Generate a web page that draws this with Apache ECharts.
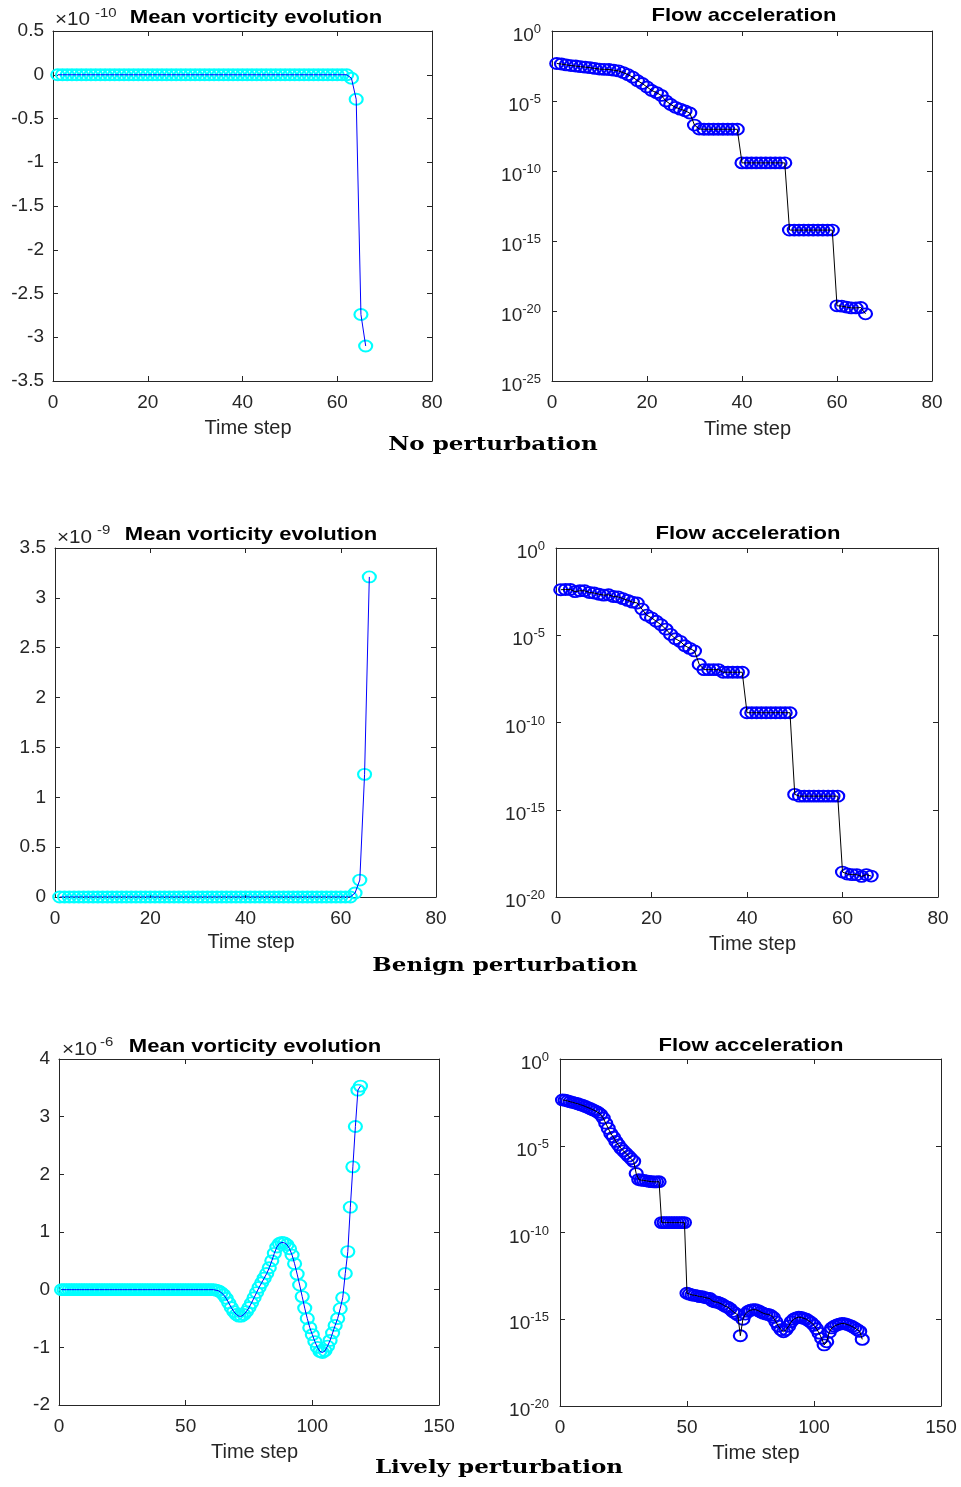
<!DOCTYPE html>
<html>
<head>
<meta charset="utf-8">
<script src="https://cdn.jsdelivr.net/npm/echarts@6/dist/echarts.min.js"></script>
<style>html,body{margin:0;padding:0;background:#fff}#chart{width:961px;height:1487px}</style>
</head>
<body>
<div id="chart"></div>
<script>
// ---------------- DATA ----------------
// Mean vorticity, no perturbation, in units of 1e-10 (time steps 1..66)
const vortNoPert = [
  0,0,0,0,0,0,0,0,0,0,
  0,0,0,0,0,0,0,0,0,0,
  0,0,0,0,0,0,0,0,0,0,
  0,0,0,0,0,0,0,0,0,0,
  0,0,0,0,0,0,0,0,0,0,
  0,0,0,0,0,0,0,0,0,0,
  0,0,-0.04,-0.28,-2.74,-3.1
];
// Flow acceleration, no perturbation, log10 values (time steps 1..66)
const accelNoPertLog10 = [
  -2.32,-2.36,-2.42,-2.47,-2.5,-2.55,-2.58,-2.62,-2.67,-2.72,
  -2.74,-2.75,-2.8,-2.85,-2.97,-3.12,-3.3,-3.55,-3.75,-4.0,
  -4.25,-4.4,-4.6,-5.0,-5.25,-5.45,-5.58,-5.7,-5.86,-6.72,
  -7.0,-7.02,-7.02,-7.02,-7.02,-7.02,-7.02,-7.02,-7.02,-9.42,
  -9.42,-9.42,-9.42,-9.42,-9.42,-9.42,-9.42,-9.42,-9.42,-14.22,
  -14.22,-14.22,-14.22,-14.22,-14.22,-14.22,-14.22,-14.22,-14.22,-19.63,
  -19.65,-19.72,-19.78,-19.78,-19.75,-20.2
];
// Mean vorticity, benign perturbation, in units of 1e-9 (time steps 1..66)
const vortBenign = [
  0,0,0,0,0,0,0,0,0,0,
  0,0,0,0,0,0,0,0,0,0,
  0,0,0,0,0,0,0,0,0,0,
  0,0,0,0,0,0,0,0,0,0,
  0,0,0,0,0,0,0,0,0,0,
  0,0,0,0,0,0,0,0,0,0,
  0,0,0.04,0.17,1.23,3.21
];
// Flow acceleration, benign perturbation, log10 values (time steps 1..66)
const accelBenignLog10 = [
  -2.39,-2.38,-2.38,-2.5,-2.45,-2.45,-2.55,-2.58,-2.65,-2.7,
  -2.68,-2.78,-2.8,-2.9,-3.0,-3.1,-3.15,-3.5,-3.85,-4.0,
  -4.2,-4.4,-4.65,-4.95,-5.2,-5.35,-5.6,-5.75,-5.9,-6.67,
  -6.97,-6.97,-6.97,-6.97,-7.12,-7.12,-7.12,-7.12,-7.12,-9.44,
  -9.44,-9.44,-9.44,-9.44,-9.44,-9.44,-9.44,-9.44,-9.44,-14.12,
  -14.22,-14.22,-14.22,-14.22,-14.22,-14.22,-14.22,-14.22,-14.22,-18.57,
  -18.68,-18.72,-18.72,-18.82,-18.72,-18.8
];
// Mean vorticity, lively perturbation, in units of 1e-6 (time steps 1..119)
const vortLively = [
  0,0,0,0,0,0,0,0,0,0,
  0,0,0,0,0,0,0,0,0,0,
  0,0,0,0,0,0,0,0,0,0,
  0,0,0,0,0,0,0,0,0,0,
  0,0,0,0,0,0,0,0,0,0,
  0,0,0,0,0,0,0,0,0,0,
  0,-0.01,-0.02,-0.05,-0.09,-0.15,-0.23,-0.31,-0.38,-0.43,
  -0.46,-0.46,-0.43,-0.38,-0.31,-0.23,-0.14,-0.05,0.04,0.12,
  0.2,0.28,0.38,0.5,0.63,0.74,0.8,0.82,0.81,0.78,
  0.71,0.6,0.45,0.27,0.08,-0.12,-0.32,-0.5,-0.66,-0.78,
  -0.9,-1.0,-1.07,-1.09,-1.06,-0.98,-0.88,-0.75,-0.62,-0.5,
  -0.33,-0.14,0.28,0.66,1.43,2.13,2.83,3.46,3.53
];
// Flow acceleration, lively perturbation, log10 values (time steps 1..119)
const accelLivelyLog10 = [
  -2.36,-2.38,-2.42,-2.46,-2.5,-2.54,-2.58,-2.63,-2.68,-2.74,
  -2.8,-2.86,-2.93,-3.0,-3.08,-3.2,-3.4,-3.7,-4.0,-4.3,
  -4.5,-4.75,-4.95,-5.15,-5.3,-5.45,-5.6,-5.75,-5.9,-6.6,
  -6.95,-6.98,-7.0,-7.02,-7.05,-7.07,-7.08,-7.08,-7.07,-9.43,
  -9.43,-9.43,-9.43,-9.43,-9.43,-9.43,-9.43,-9.43,-9.43,-13.5,
  -13.55,-13.6,-13.62,-13.65,-13.7,-13.7,-13.75,-13.78,-13.8,-13.95,
  -14.0,-14.02,-14.08,-14.15,-14.25,-14.3,-14.4,-14.55,-14.65,-14.75,
  -15.95,-15.0,-14.7,-14.55,-14.48,-14.45,-14.45,-14.5,-14.58,-14.65,
  -14.7,-14.72,-14.78,-14.9,-15.15,-15.4,-15.6,-15.72,-15.6,-15.4,
  -15.15,-15.0,-14.92,-14.88,-14.9,-14.95,-15.0,-15.1,-15.2,-15.35,
  -15.55,-15.8,-16.1,-16.48,-16.3,-15.75,-15.5,-15.4,-15.33,-15.28,
  -15.24,-15.25,-15.3,-15.35,-15.42,-15.5,-15.6,-15.7,-16.16
];

const titleVort = 'Mean vorticity evolution';
const titleAccel = 'Flow acceleration';
const xAxisName = 'Time step';
const captions = ['No perturbation', 'Benign perturbation', 'Lively perturbation'];
const vortExponents = ['-10', '-9', '-6'];

// ---------------- LAYOUT ----------------
const FONT = "'Liberation Sans', Arial, Helvetica, sans-serif";
const AXC = '#262626';

const panels = [
  { kind: 'vort',  values: vortNoPert,       grid: {left: 53,  top: 31,   width: 379, height: 350}, x: [0, 80, 20],  y: [-3.5, 0.5, 0.5], nameGap: 37 },
  { kind: 'accel', values: accelNoPertLog10, grid: {left: 552, top: 31,   width: 380, height: 350}, x: [0, 80, 20],  y: [-25, 0, 5],      nameGap: 38 },
  { kind: 'vort',  values: vortBenign,       grid: {left: 55,  top: 548,  width: 381, height: 349}, x: [0, 80, 20],  y: [0, 3.5, 0.5],    nameGap: 35 },
  { kind: 'accel', values: accelBenignLog10, grid: {left: 556, top: 548,  width: 382, height: 349}, x: [0, 80, 20],  y: [-20, 0, 5],      nameGap: 37 },
  { kind: 'vort',  values: vortLively,       grid: {left: 59,  top: 1059, width: 380, height: 346}, x: [0, 150, 50], y: [-2, 4, 1],       nameGap: 37 },
  { kind: 'accel', values: accelLivelyLog10, grid: {left: 560, top: 1059, width: 381, height: 347}, x: [0, 150, 50], y: [-20, 0, 5],      nameGap: 37 }
];

const grids = [], xAxes = [], yAxes = [], series = [];

const tick = {show: true, inside: true, length: 5, lineStyle: {color: AXC, width: 1}};
const line = {show: true, onZero: false, lineStyle: {color: AXC, width: 1}};

panels.forEach((p, i) => {
  grids.push(Object.assign({show: false, containLabel: false, outerBoundsMode: 'none'}, p.grid));
  const [xmin, xmax, xint] = p.x;
  const [ymin, ymax, yint] = p.y;
  xAxes.push({
    type: 'value', gridIndex: i, position: 'bottom', min: xmin, max: xmax, interval: xint,
    axisLine: line, axisTick: tick, splitLine: {show: false},
    axisLabel: {show: true, margin: 12, color: AXC, fontFamily: FONT, fontSize: 19, showMinLabel: true, showMaxLabel: true},
    name: xAxisName, nameLocation: 'middle', nameGap: p.nameGap,
    nameTextStyle: {color: AXC, fontFamily: FONT, fontSize: 20, padding: [0, 0, 0, 11]}
  });
  xAxes.push({
    type: 'value', gridIndex: i, position: 'top', min: xmin, max: xmax, interval: xint,
    axisLine: line, axisTick: tick, splitLine: {show: false}, axisLabel: {show: false}
  });
  const yLabel = p.kind === 'accel'
    ? {
        show: true, margin: 11, color: AXC, fontFamily: FONT, showMinLabel: true, showMaxLabel: true,
        formatter: v => '{b|10}{s|' + v + '}',
        rich: {
          b: {fontSize: 19, fontFamily: FONT, color: AXC, lineHeight: 18, padding: [11, 0, 1, 0]},
          s: {fontSize: 13, fontFamily: FONT, color: AXC, lineHeight: 13, padding: [7, 0, 10, 0]}
        }
      }
    : {show: true, margin: 9, color: AXC, fontFamily: FONT, fontSize: 19, showMinLabel: true, showMaxLabel: true};
  yAxes.push({
    type: 'value', gridIndex: i, position: 'left', min: ymin, max: ymax, interval: yint,
    axisLine: line, axisTick: tick, splitLine: {show: false}, axisLabel: yLabel
  });
  yAxes.push({
    type: 'value', gridIndex: i, position: 'right', min: ymin, max: ymax, interval: yint,
    axisLine: line, axisTick: tick, splitLine: {show: false}, axisLabel: {show: false}
  });

  const pts = p.values.map((v, k) => [k + 1, v]);
  const markerColor = p.kind === 'vort' ? '#00ffff' : '#0000ff';
  const lineColor = p.kind === 'vort' ? '#0000ff' : '#000000';
  series.push({
    type: 'scatter', xAxisIndex: 2 * i, yAxisIndex: 2 * i, data: pts,
    symbol: 'circle', symbolSize: [13, 11], z: 2, silent: true,
    itemStyle: {color: 'rgba(0,0,0,0)', borderColor: markerColor, borderWidth: 2, opacity: 1}
  });
  series.push({
    type: 'line', xAxisIndex: 2 * i, yAxisIndex: 2 * i, data: pts,
    symbol: 'none', showSymbol: false, z: 3, silent: true,
    lineStyle: {color: lineColor, width: 1}, itemStyle: {color: lineColor}
  });
});

// titles, exponent markers, captions
const graphics = [];
const titlePos = [[256, 18], [744, 15.5], [251, 535], [748, 533.5], [255, 1047], [751, 1045.5]];
titlePos.forEach((tp, i) => {
  graphics.push({
    type: 'text', x: tp[0], y: tp[1], scaleX: 1.16, silent: true,
    style: {text: i % 2 === 0 ? titleVort : titleAccel, fill: '#000', font: 'bold 19px ' + FONT,
            textAlign: 'center', textVerticalAlign: 'middle'}
  });
});
const expPos = [[55, 20.5, 95, 13], [57, 538, 97, 530.5], [62, 1050, 100, 1042.5]];
expPos.forEach((ep, i) => {
  graphics.push({
    type: 'text', x: ep[0], y: ep[1], scaleX: 1.15, silent: true,
    style: {text: '\u00d710', fill: AXC, font: '18px ' + FONT, textAlign: 'left', textVerticalAlign: 'middle'}
  });
  graphics.push({
    type: 'text', x: ep[2], y: ep[3], scaleX: 1.15, silent: true,
    style: {text: vortExponents[i], fill: AXC, font: '13px ' + FONT, textAlign: 'left', textVerticalAlign: 'middle'}
  });
});
const capPos = [[493, 445], [505, 966], [499, 1468]];
capPos.forEach((cp, i) => {
  graphics.push({
    type: 'text', x: cp[0], y: cp[1], scaleX: 1.28, silent: true,
    style: {text: captions[i], fill: '#000', font: "bold 18px 'DejaVu Serif', serif",
            textAlign: 'center', textVerticalAlign: 'middle'}
  });
});

const chart = echarts.init(document.getElementById('chart'), null, {renderer: 'canvas'});
chart.setOption({
  animation: false,
  backgroundColor: '#ffffff',
  grid: grids,
  xAxis: xAxes,
  yAxis: yAxes,
  series: series,
  graphic: {elements: graphics}
});
</script>
</body>
</html>
